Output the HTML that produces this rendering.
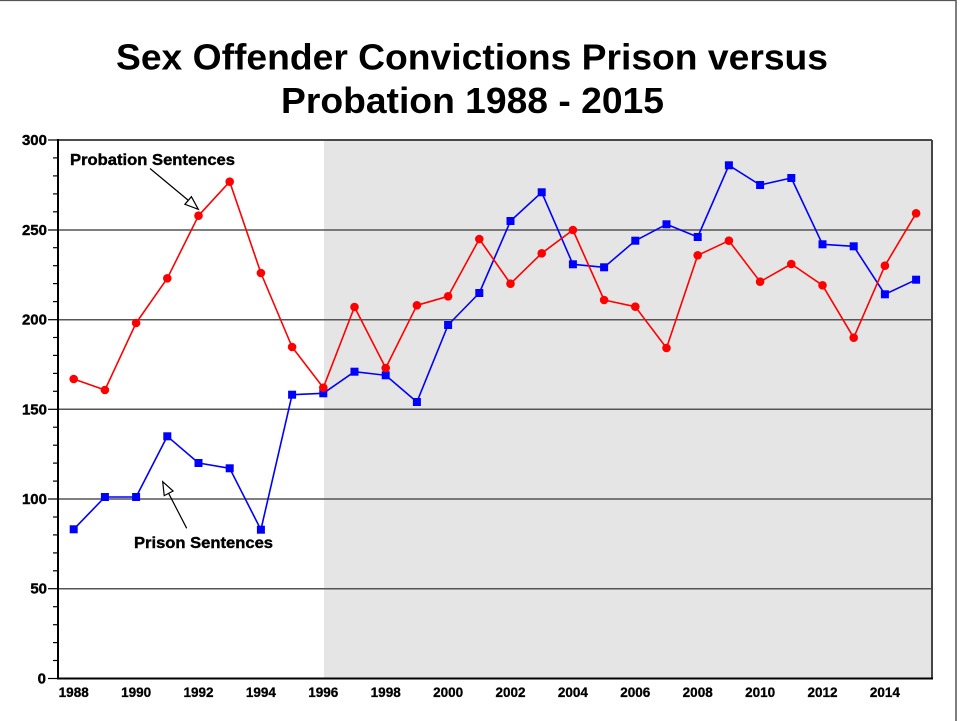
<!DOCTYPE html>
<html>
<head>
<meta charset="utf-8">
<style>
  html, body { margin: 0; padding: 0; background: #ffffff; }
  svg { display: block; }
  text { font-family: "Liberation Sans", Arial, sans-serif; font-weight: bold; fill: #000; }
</style>
</head>
<body>
<svg width="961" height="721" viewBox="0 0 961 721" xmlns="http://www.w3.org/2000/svg">
  <rect x="0" y="0" width="961" height="721" fill="#ffffff"/>
  <!-- outer border (top & right) -->
  <line x1="0" y1="0.5" x2="956" y2="0.5" stroke="#555" stroke-width="1.2"/>
  <line x1="956" y1="0" x2="956" y2="721" stroke="#555" stroke-width="1.5"/>

  <!-- Title -->
  <text x="116" y="69.5" font-size="36" textLength="712" lengthAdjust="spacingAndGlyphs">Sex Offender Convictions Prison versus</text>
  <text x="281" y="113" font-size="36" textLength="383" lengthAdjust="spacingAndGlyphs">Probation 1988 - 2015</text>

  <!-- shaded region -->
  <rect x="324" y="140" width="608" height="538.5" fill="#e5e5e5"/>

  <!-- gridlines -->
  <g stroke="#555" stroke-width="1.5">
    <line x1="58" y1="230" x2="932" y2="230"/>
    <line x1="58" y1="319.7" x2="932" y2="319.7"/>
    <line x1="58" y1="409.3" x2="932" y2="409.3"/>
    <line x1="58" y1="499" x2="932" y2="499"/>
    <line x1="58" y1="588.7" x2="932" y2="588.7"/>
  </g>

  <!-- frame -->
  <line x1="58" y1="140" x2="932" y2="140" stroke="#111" stroke-width="1.6"/>
  <line x1="932" y1="140" x2="932" y2="679" stroke="#444" stroke-width="2"/>
  <line x1="58" y1="678.5" x2="933" y2="678.5" stroke="#000" stroke-width="2"/>
  <line x1="58" y1="139" x2="58" y2="679.5" stroke="#000" stroke-width="2"/>

  <!-- y ticks -->
  <g stroke="#000" stroke-width="1.2">
    <line x1="48" y1="140.0" x2="58" y2="140.0"/>
    <line x1="53" y1="157.9" x2="58" y2="157.9"/>
    <line x1="53" y1="175.9" x2="58" y2="175.9"/>
    <line x1="53" y1="193.9" x2="58" y2="193.9"/>
    <line x1="53" y1="211.8" x2="58" y2="211.8"/>
    <line x1="48" y1="230.0" x2="58" y2="230.0"/>
    <line x1="53" y1="247.7" x2="58" y2="247.7"/>
    <line x1="53" y1="265.7" x2="58" y2="265.7"/>
    <line x1="53" y1="283.6" x2="58" y2="283.6"/>
    <line x1="53" y1="301.6" x2="58" y2="301.6"/>
    <line x1="48" y1="319.7" x2="58" y2="319.7"/>
    <line x1="53" y1="337.5" x2="58" y2="337.5"/>
    <line x1="53" y1="355.4" x2="58" y2="355.4"/>
    <line x1="53" y1="373.4" x2="58" y2="373.4"/>
    <line x1="53" y1="391.3" x2="58" y2="391.3"/>
    <line x1="48" y1="409.3" x2="58" y2="409.3"/>
    <line x1="53" y1="427.2" x2="58" y2="427.2"/>
    <line x1="53" y1="445.2" x2="58" y2="445.2"/>
    <line x1="53" y1="463.1" x2="58" y2="463.1"/>
    <line x1="53" y1="481.1" x2="58" y2="481.1"/>
    <line x1="48" y1="499.0" x2="58" y2="499.0"/>
    <line x1="53" y1="517.0" x2="58" y2="517.0"/>
    <line x1="53" y1="534.9" x2="58" y2="534.9"/>
    <line x1="53" y1="552.9" x2="58" y2="552.9"/>
    <line x1="53" y1="570.8" x2="58" y2="570.8"/>
    <line x1="48" y1="588.7" x2="58" y2="588.7"/>
    <line x1="53" y1="606.7" x2="58" y2="606.7"/>
    <line x1="53" y1="624.7" x2="58" y2="624.7"/>
    <line x1="53" y1="642.6" x2="58" y2="642.6"/>
    <line x1="53" y1="660.5" x2="58" y2="660.5"/>
    <line x1="48" y1="678.5" x2="58" y2="678.5"/>
  </g>

  <!-- y labels -->
  <g font-size="15" text-anchor="end" stroke="#000" stroke-width="0.4">
    <text x="47" y="145">300</text>
    <text x="47" y="235">250</text>
    <text x="47" y="324.7">200</text>
    <text x="47" y="414.3">150</text>
    <text x="47" y="504">100</text>
    <text x="47" y="593.7">50</text>
    <text x="46" y="683.5">0</text>
  </g>

  <!-- x labels -->
  <g font-size="13.5" text-anchor="middle" stroke="#000" stroke-width="0.3">
    <text x="73.7" y="697">1988</text>
    <text x="136.1" y="697">1990</text>
    <text x="198.5" y="697">1992</text>
    <text x="260.9" y="697">1994</text>
    <text x="323.3" y="697">1996</text>
    <text x="385.7" y="697">1998</text>
    <text x="448.1" y="697">2000</text>
    <text x="510.5" y="697">2002</text>
    <text x="572.9" y="697">2004</text>
    <text x="635.3" y="697">2006</text>
    <text x="697.7" y="697">2008</text>
    <text x="760.1" y="697">2010</text>
    <text x="822.5" y="697">2012</text>
    <text x="884.9" y="697">2014</text>
  </g>

  <!-- Blue series (Prison) -->
  <polyline fill="none" stroke="#0000ff" stroke-width="1.6" stroke-linejoin="round"
    points="73.7,529.3 104.9,497 136.1,497 167.3,436.3 198.5,463 229.7,468.3 260.9,529.7 292.1,394.7 323.3,393.3 354.5,371.7 385.7,375.3 416.9,402 448.1,325 479.3,293 510.5,221 541.7,192.3 572.9,264.3 604.1,267.3 635.3,240.7 666.5,224.3 697.7,237 728.9,165.3 760.1,185 791.3,178 822.5,244.3 853.7,246.3 884.9,294.3 916.1,279.7"/>
  <g fill="#0000ff">
    <rect x="69.7" y="525.3" width="8" height="8"/>
    <rect x="100.9" y="493" width="8" height="8"/>
    <rect x="132.1" y="493" width="8" height="8"/>
    <rect x="163.3" y="432.3" width="8" height="8"/>
    <rect x="194.5" y="459" width="8" height="8"/>
    <rect x="225.7" y="464.3" width="8" height="8"/>
    <rect x="256.9" y="525.7" width="8" height="8"/>
    <rect x="288.1" y="390.7" width="8" height="8"/>
    <rect x="319.3" y="389.3" width="8" height="8"/>
    <rect x="350.5" y="367.7" width="8" height="8"/>
    <rect x="381.7" y="371.3" width="8" height="8"/>
    <rect x="412.9" y="398" width="8" height="8"/>
    <rect x="444.1" y="321" width="8" height="8"/>
    <rect x="475.3" y="289" width="8" height="8"/>
    <rect x="506.5" y="217" width="8" height="8"/>
    <rect x="537.7" y="188.3" width="8" height="8"/>
    <rect x="568.9" y="260.3" width="8" height="8"/>
    <rect x="600.1" y="263.3" width="8" height="8"/>
    <rect x="631.3" y="236.7" width="8" height="8"/>
    <rect x="662.5" y="220.3" width="8" height="8"/>
    <rect x="693.7" y="233" width="8" height="8"/>
    <rect x="724.9" y="161.3" width="8" height="8"/>
    <rect x="756.1" y="181" width="8" height="8"/>
    <rect x="787.3" y="174" width="8" height="8"/>
    <rect x="818.5" y="240.3" width="8" height="8"/>
    <rect x="849.7" y="242.3" width="8" height="8"/>
    <rect x="880.9" y="290.3" width="8" height="8"/>
    <rect x="912.1" y="275.7" width="8" height="8"/>
  </g>

  <!-- Red series (Probation) -->
  <polyline fill="none" stroke="#ff0000" stroke-width="1.6" stroke-linejoin="round"
    points="73.7,379 104.9,390 136.1,323 167.3,278.3 198.5,215.7 229.7,181.7 260.9,273 292.1,347 323.3,387.7 354.5,307 385.7,368 416.9,305.3 448.1,296.3 479.3,239 510.5,283.7 541.7,253.3 572.9,230 604.1,300 635.3,306.7 666.5,348 697.7,255.3 728.9,240.7 760.1,281.7 791.3,264 822.5,285.3 853.7,337.7 884.9,265.7 916.1,213.3"/>
  <g fill="#ff0000">
    <circle cx="73.7" cy="379" r="4.3"/>
    <circle cx="104.9" cy="390" r="4.3"/>
    <circle cx="136.1" cy="323" r="4.3"/>
    <circle cx="167.3" cy="278.3" r="4.3"/>
    <circle cx="198.5" cy="215.7" r="4.3"/>
    <circle cx="229.7" cy="181.7" r="4.3"/>
    <circle cx="260.9" cy="273" r="4.3"/>
    <circle cx="292.1" cy="347" r="4.3"/>
    <circle cx="323.3" cy="387.7" r="4.3"/>
    <circle cx="354.5" cy="307" r="4.3"/>
    <circle cx="385.7" cy="368" r="4.3"/>
    <circle cx="416.9" cy="305.3" r="4.3"/>
    <circle cx="448.1" cy="296.3" r="4.3"/>
    <circle cx="479.3" cy="239" r="4.3"/>
    <circle cx="510.5" cy="283.7" r="4.3"/>
    <circle cx="541.7" cy="253.3" r="4.3"/>
    <circle cx="572.9" cy="230" r="4.3"/>
    <circle cx="604.1" cy="300" r="4.3"/>
    <circle cx="635.3" cy="306.7" r="4.3"/>
    <circle cx="666.5" cy="348" r="4.3"/>
    <circle cx="697.7" cy="255.3" r="4.3"/>
    <circle cx="728.9" cy="240.7" r="4.3"/>
    <circle cx="760.1" cy="281.7" r="4.3"/>
    <circle cx="791.3" cy="264" r="4.3"/>
    <circle cx="822.5" cy="285.3" r="4.3"/>
    <circle cx="853.7" cy="337.7" r="4.3"/>
    <circle cx="884.9" cy="265.7" r="4.3"/>
    <circle cx="916.1" cy="213.3" r="4.3"/>
  </g>

  <!-- Annotations -->
  <text x="70" y="165" font-size="16" textLength="165" lengthAdjust="spacingAndGlyphs" stroke="#000" stroke-width="0.4">Probation Sentences</text>
  <line x1="150" y1="168.5" x2="188.5" y2="200.5" stroke="#000" stroke-width="1.2"/>
  <polygon points="198.3,209.3 184.9,204.3 191.4,196.7" fill="#fff" stroke="#000" stroke-width="1.2" stroke-linejoin="miter"/>

  <text x="134" y="548" font-size="16" textLength="139" lengthAdjust="spacingAndGlyphs" stroke="#000" stroke-width="0.4">Prison Sentences</text>
  <line x1="186.7" y1="528.3" x2="168.6" y2="493.3" stroke="#000" stroke-width="1.2"/>
  <polygon points="162.7,481.7 173.1,491.0 164.2,495.6" fill="#fff" stroke="#000" stroke-width="1.2" stroke-linejoin="miter"/>
</svg>
</body>
</html>
